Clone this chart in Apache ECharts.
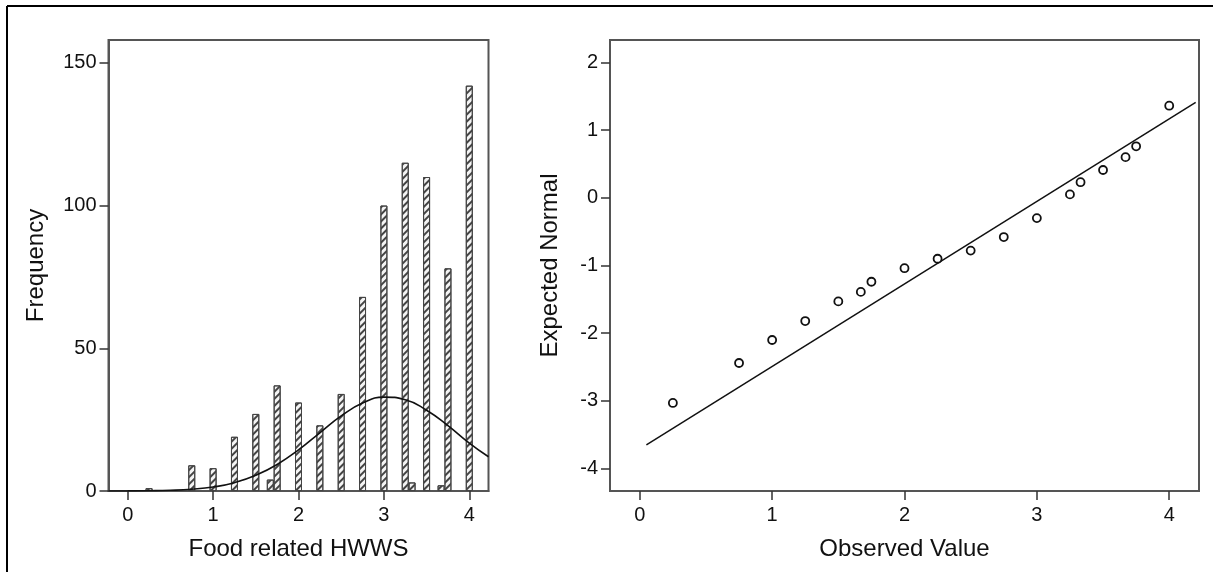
<!DOCTYPE html>
<html>
<head>
<meta charset="utf-8">
<script src="https://cdn.jsdelivr.net/npm/echarts@6/dist/echarts.min.js"></script>
<style>
  html, body { margin: 0; padding: 0; background: #fff; }
  #chart { width: 1213px; height: 572px; }
</style>
</head>
<body>
<div id="chart"></div>
<script>
// ---------- data ----------
// Histogram: value of Food related HWWS and its frequency
const histX = [0.25, 0.75, 1, 1.25, 1.5, 1.67, 1.75, 2, 2.25, 2.5, 2.75, 3, 3.25, 3.33, 3.5, 3.67, 3.75, 4];
const histY = [1, 9, 8, 19, 27, 4, 37, 31, 23, 34, 68, 100, 115, 3, 110, 2, 78, 142];

// Normal curve
const curveX = [-0.225, 0, 0.25, 0.5, 0.75, 1, 1.25, 1.5, 1.75, 2, 2.25, 2.5, 2.75, 3, 3.25, 3.5, 3.75, 4, 4.225];
const curveY = [0.01, 0.03, 0.09, 0.25, 0.63, 1.4, 2.9, 5.5, 9.3, 14.4, 20.4, 26.3, 30.8, 32.9, 32.0, 28.3, 22.9, 16.8, 12.0];

// Q-Q plot: observed value vs expected normal
const qqX = [0.25, 0.75, 1, 1.25, 1.5, 1.67, 1.75, 2, 2.25, 2.5, 2.75, 3, 3.25, 3.33, 3.5, 3.67, 3.75, 4];
const qqY = [-3.03, -2.44, -2.10, -1.82, -1.53, -1.39, -1.24, -1.04, -0.90, -0.78, -0.58, -0.30, 0.05, 0.23, 0.41, 0.60, 0.76, 1.36];

// Reference line endpoints
const refX = [0.05, 4.2];
const refY = [-3.65, 1.41];

// Tick labels
const xTicks = [0, 1, 2, 3, 4];
const freqTicks = [0, 50, 100, 150];
const normTicks = [-4, -3, -2, -1, 0, 1, 2];

const xTitleLeft = 'Food related HWWS';
const yTitleLeft = 'Frequency';
const xTitleRight = 'Observed Value';
const yTitleRight = 'Expected Normal';

// ---------- chart ----------
const FONT = 'Liberation Sans, Arial, sans-serif';
const chart = echarts.init(document.getElementById('chart'), null, { renderer: 'canvas' });

function xAxisCfg(gridIndex, name) {
  return {
    type: 'value', gridIndex, min: -0.225, max: 4.225,
    name, nameLocation: 'middle', nameGap: 46,
    nameTextStyle: { fontFamily: FONT, fontSize: 24, color: '#111' },
    axisLine: { show: true, onZero: false, lineStyle: { color: '#555', width: 2 } },
    axisTick: { show: true, length: 9, customValues: xTicks, lineStyle: { color: '#333', width: 1.5 } },
    axisLabel: { customValues: xTicks, margin: 14, fontFamily: FONT, fontSize: 20, color: '#111' },
    splitLine: { show: false }
  };
}
function yAxisCfg(gridIndex, name, min, max, ticks, gap) {
  return {
    type: 'value', gridIndex, min, max,
    name, nameLocation: 'middle', nameGap: gap, nameRotate: 90,
    nameTextStyle: { fontFamily: FONT, fontSize: 24, color: '#111' },
    axisLine: { show: true, onZero: false, lineStyle: { color: '#555', width: 2 } },
    axisTick: { show: true, length: 9, customValues: ticks, lineStyle: { color: '#333', width: 1.5 } },
    axisLabel: { customValues: ticks, margin: 12, fontFamily: FONT, fontSize: 20, color: '#111' },
    splitLine: { show: false }
  };
}

const option = {
  backgroundColor: '#fff',
  animation: false,
  graphic: [
    { type: 'line', shape: { x1: 7, y1: 6, x2: 1213, y2: 6 }, style: { stroke: '#000', lineWidth: 2 } },
    { type: 'line', shape: { x1: 7, y1: 6, x2: 7, y2: 572 }, style: { stroke: '#000', lineWidth: 2 } }
  ],
  grid: [
    { left: 108.5, top: 40, width: 380, height: 451, show: true, borderColor: '#555', borderWidth: 2, backgroundColor: 'transparent' },
    { left: 610, top: 40, width: 589, height: 451, show: true, borderColor: '#555', borderWidth: 2, backgroundColor: 'transparent' }
  ],
  xAxis: [ xAxisCfg(0, xTitleLeft), xAxisCfg(1, xTitleRight) ],
  yAxis: [
    yAxisCfg(0, yTitleLeft, 0, 158, freqTicks, 60),
    yAxisCfg(1, yTitleRight, -4.33, 2.33, normTicks, 48)
  ],
  series: [
    {
      type: 'bar', xAxisIndex: 0, yAxisIndex: 0, barWidth: 7,
      data: histX.map((x, i) => [x, histY[i]]),
      itemStyle: {
        color: '#f4f4f4', borderColor: '#444', borderWidth: 1,
        decal: { symbol: 'rect', symbolSize: 1, color: '#444', dashArrayX: [1, 0], dashArrayY: [1.2, 2.2], rotation: -Math.PI / 4 }
      },
      z: 2
    },
    {
      type: 'line', xAxisIndex: 0, yAxisIndex: 0, smooth: true, symbol: 'none',
      data: curveX.map((x, i) => [x, curveY[i]]),
      lineStyle: { color: '#111', width: 1.6 }, z: 3
    },
    {
      type: 'line', xAxisIndex: 1, yAxisIndex: 1, symbol: 'none',
      data: refX.map((x, i) => [x, refY[i]]),
      lineStyle: { color: '#111', width: 1.5 }, z: 2
    },
    {
      type: 'scatter', xAxisIndex: 1, yAxisIndex: 1, symbol: 'circle', symbolSize: 8,
      data: qqX.map((x, i) => [x, qqY[i]]),
      itemStyle: { color: '#fff', borderColor: '#111', borderWidth: 1.8, opacity: 1 }, z: 3
    }
  ]
};
chart.setOption(option);
</script>
</body>
</html>
